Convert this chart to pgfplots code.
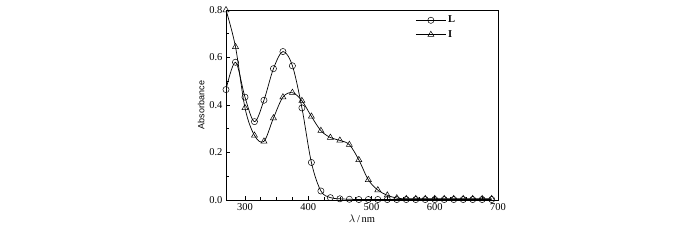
\documentclass[border=0pt]{standalone}
\usepackage{pgfplots}
\pgfplotsset{compat=1.18}
\usepackage{fontspec}
\setmainfont{Liberation Serif}
\setsansfont{Liberation Sans}
\begin{document}
\begin{tikzpicture}[x=1pt,y=1pt]
\useasboundingbox (-226,-40) rectangle (474,200);
\begin{axis}[
  at={(0,0)}, anchor=south west,
  scale only axis, width=272pt, height=190pt,
  xmin=270, xmax=700, ymin=0, ymax=0.8,
  xtick={300,400,500,600,700},
  ytick={0,0.2,0.4,0.6,0.8},
  minor x tick num=3, minor y tick num=1,
  tick pos=left, tick align=inside,
  major tick length=4pt, minor tick length=2.5pt,
  axis line style={line width=0.9pt},
  tick style={line width=0.6pt, black},
  yticklabel style={/pgf/number format/.cd, fixed, fixed zerofill, precision=1, assume math mode=true},
  xticklabel style={/pgf/number format/assume math mode=true},
  tick label style={font=\fontsize{10.5}{12}\selectfont},
  xlabel={\fontsize{10.5}{12}\selectfont $\lambda$\,/\,nm},
  ylabel={\sffamily\fontsize{9}{11}\selectfont Absorbance},
  xlabel style={yshift=3pt},
  ylabel style={yshift=-2pt},
  clip=true,
  legend style={draw=none, fill=none, at={(0.685,0.99)}, anchor=north west,
    font=\fontsize{10.5}{12}\selectfont\bfseries, row sep=2pt,
    legend cell align=left},
  legend image code/.code={\draw[mark repeat=2,mark phase=2,#1] plot coordinates {(0pt,0pt) (15pt,0pt) (30pt,0pt)};},
]
\addplot[black, line width=0.7pt, smooth, tension=0.55, mark=o, mark size=3.1pt,
  mark options={fill=white, line width=0.5pt}] coordinates {
(270,0.465) (285,0.580) (300,0.433) (315,0.330) (330,0.420) (345,0.553)
(360,0.625) (375,0.565) (390,0.388) (405,0.158) (420,0.038) (435,0.010)
(450,0.005) (465,0.003) (480,0.002) (495,0.002) (510,0.002) (525,0.002)
(540,0.002) (555,0.002) (570,0.002) (585,0.002) (600,0.002) (615,0.002)
(630,0.002) (645,0.002) (660,0.002) (675,0.002) (690,0.002)
};
\addlegendentry{L}
\addplot[black, line width=0.7pt, smooth, tension=0.55, mark=triangle, mark size=3.5pt,
  mark options={fill=white, line width=0.5pt}] coordinates {
(270,0.800) (285,0.645) (300,0.388) (315,0.272) (330,0.247) (345,0.345)
(360,0.433) (375,0.452) (390,0.418) (405,0.352) (420,0.292) (435,0.263)
(450,0.251) (465,0.233) (480,0.169) (495,0.085) (510,0.042) (525,0.020)
(540,0.008) (555,0.005) (570,0.005) (585,0.005) (600,0.005) (615,0.005)
(630,0.005) (645,0.005) (660,0.005) (675,0.005) (690,0.005)
};
\addlegendentry{I}
\end{axis}
\end{tikzpicture}
\end{document}
